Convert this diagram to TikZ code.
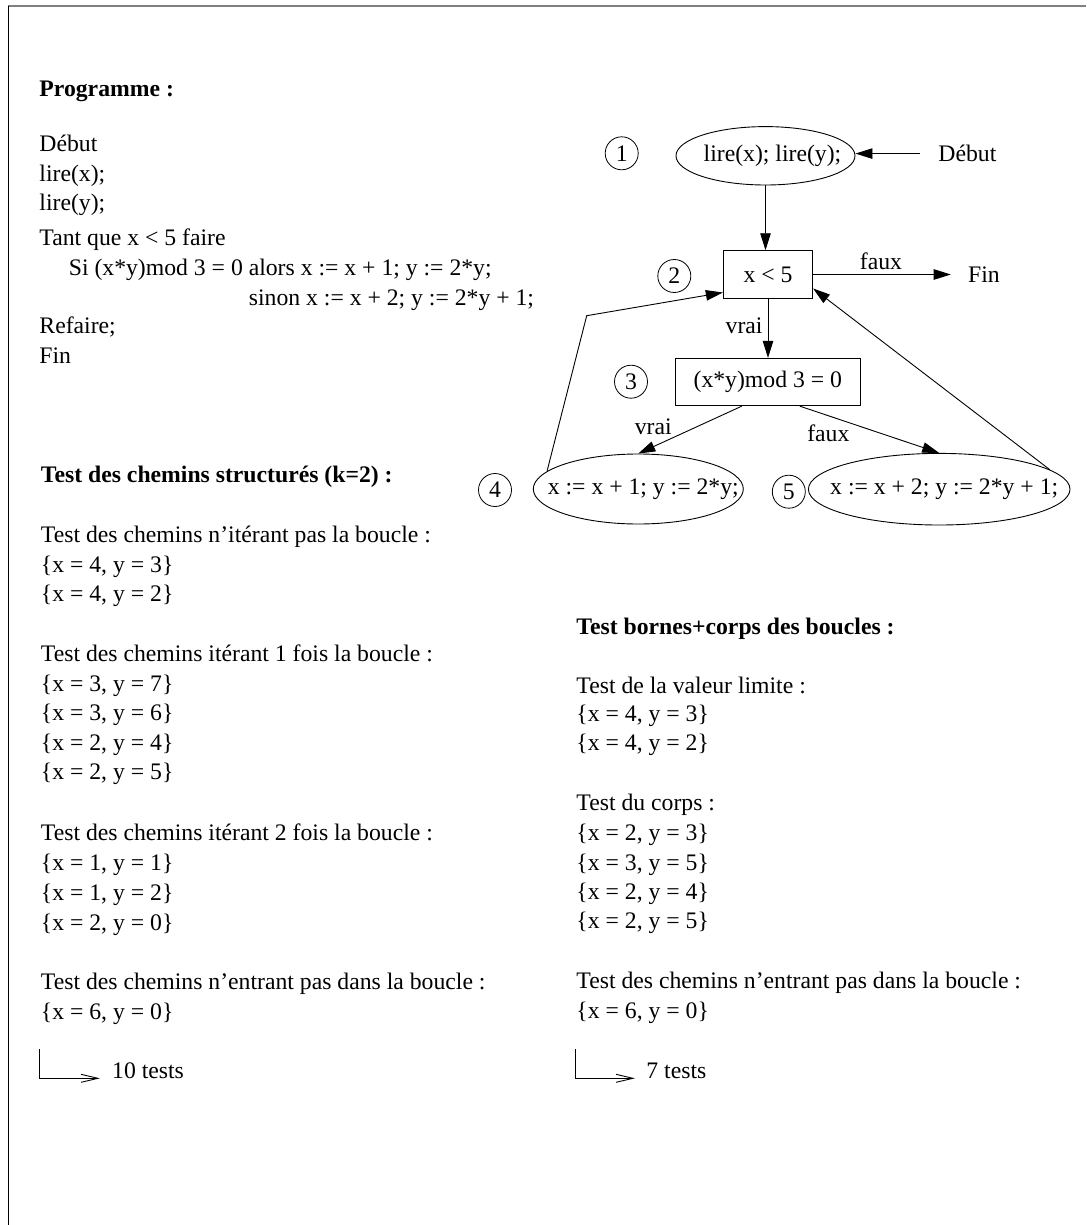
\documentclass[tikz,border=0pt]{standalone}
\usepackage{fontspec}
\setmainfont{Liberation Serif}
\usetikzlibrary{arrows.meta,shapes.geometric,calc}
\newcommand{\myfs}{\fontsize{23.7}{29.3}\selectfont}
\begin{document}
\begin{tikzpicture}[x=1pt,y=-1pt, font=\myfs, line width=0.9pt,
  txt/.style={anchor=base west, inner sep=0pt},
  btxt/.style={anchor=base west, inner sep=0pt, font=\myfs\bfseries},
  lbl/.style={anchor=base, inner sep=0pt},
  num/.style={circle, draw, minimum size=33pt, inner sep=0pt, line width=0.8pt},
  bx/.style={rectangle, draw, inner sep=0pt},
  ell/.style={ellipse, draw, inner sep=0pt},
  arr/.style={-{Triangle[length=17pt,width=10.5pt]}},
  oarr/.style={-{Straight Barb[length=17pt,width=8pt]}}]
\fill[white] (0,0) rectangle (1086,1225);
\useasboundingbox (0,0) rectangle (1086,1225);
% frame
\draw[gray, line width=1.5pt] (8,6) -- (1086,6);
\draw[line width=0.8pt] (8,6) -- (8,1225);

% program
\node[btxt] (p0) at (39,97) {Programme :};
\node[txt] (p1) at (39,152) {Début};
\node[txt] (p2) at (39,181.5) {lire(x);};
\node[txt] (p3) at (39,211) {lire(y);};
\node[txt] (p4) at (39,245) {Tant que x < 5 faire};
\node[txt] (p5) at (68.4,275) {Si (x*y)mod 3 = 0 alors x := x + 1; y := 2*y;};
\node[txt] (p6) at (248.4,305) {sinon x := x + 2; y := 2*y + 1;};
\node[txt] (p7) at (39,333.5) {Refaire;};
\node[txt] (p8) at (39,363.3) {Fin};

% left column
\node[btxt] (s0) at (40.5,482.3) {Test des chemins structurés (k=2) :};
\node[txt] (s1) at (40.5,542.7) {Test des chemins n’itérant pas la boucle :};
\node[txt] (s2) at (40.5,572.7) {\{x = 4, y = 3\}};
\node[txt] (s3) at (40.5,601.7) {\{x = 4, y = 2\}};
\node[txt] (s4) at (40.5,661.7) {Test des chemins itérant 1 fois la boucle :};
\node[txt] (s5) at (40.5,691.7) {\{x = 3, y = 7\}};
\node[txt] (s6) at (40.5,720.7) {\{x = 3, y = 6\}};
\node[txt] (s7) at (40.5,750) {\{x = 2, y = 4\}};
\node[txt] (s8) at (40.5,779.3) {\{x = 2, y = 5\}};
\node[txt] (s9) at (40.5,840) {Test des chemins itérant 2 fois la boucle :};
\node[txt] (s10) at (40.5,870) {\{x = 1, y = 1\}};
\node[txt] (s11) at (40.5,900) {\{x = 1, y = 2\}};
\node[txt] (s12) at (40.5,930) {\{x = 2, y = 0\}};
\node[txt] (s13) at (40.5,989.3) {Test des chemins n’entrant pas dans la boucle :};
\node[txt] (s14) at (40.5,1019.3) {\{x = 6, y = 0\}};
\node[txt] (ten) at (111.7,1078.3) {10 tests};
\coordinate (ltop) at (39,1049.3);
\draw[oarr] (ltop) |- ([xshift=-11.7pt]ten.base west);

% right column
\node[btxt] (r0) at (576,634) {Test bornes+corps des boucles :};
\node[txt] (r1) at (576,693) {Test de la valeur limite :};
\node[txt] (r2) at (576,721.7) {\{x = 4, y = 3\}};
\node[txt] (r3) at (576,750.7) {\{x = 4, y = 2\}};
\node[txt] (r4) at (576,810.7) {Test du corps :};
\node[txt] (r5) at (576,840.7) {\{x = 2, y = 3\}};
\node[txt] (r6) at (576,870) {\{x = 3, y = 5\}};
\node[txt] (r7) at (576,899.3) {\{x = 2, y = 4\}};
\node[txt] (r8) at (576,928.3) {\{x = 2, y = 5\}};
\node[txt] (r9) at (576,988.3) {Test des chemins n’entrant pas dans la boucle :};
\node[txt] (r10) at (576,1018.3) {\{x = 6, y = 0\}};
\node[txt] (sev) at (646,1078.3) {7 tests};
\coordinate (rtop) at (575,1049.3);
\draw[oarr] (rtop) |- ([xshift=-11pt]sev.base west);

% graph shapes (fixed sizes; text may overlap the outline as in the original)
\node[ell, minimum width=179pt, minimum height=58.4pt] (e1) at (765.5,155.8) {};
\node[inner sep=0pt] (e1t) at ([xshift=7pt]e1.center) {lire(x); lire(y);};
\node[bx, minimum width=89.4pt, minimum height=47.6pt] (b2) at (768,274.5) {x < 5};
\node[bx, minimum width=184.3pt, minimum height=47.4pt] (b3) at (767.8,382) {(x*y)mod 3 = 0};
\node[ell, minimum width=210pt, minimum height=70pt] (e4) at (638.3,489) {};
\node[inner sep=0pt] (e4t) at ([xshift=5pt]e4.center) {x := x + 1; y := 2*y;};
\node[ell, minimum width=261.6pt, minimum height=71.6pt] (e5) at (939.2,489.2) {};
\node[inner sep=0pt] (e5t) at ([xshift=5pt]e5.center) {x := x + 2; y := 2*y + 1;};

\node[num] (c1) at (621.7,153.3) {1};
\node[num] (c2) at (674.3,276) {2};
\node[num] (c3) at (631,381.7) {3};
\node[num] (c4) at (495,490) {4};
\node[num] (c5) at (788.8,491.7) {5};

\node[txt] (deb) at (938,161.7) {Début};
\node[txt] (fin) at (967.7,282.3) {Fin};

\node[lbl] (lf1) at (881,269.3) {faux};
\node[anchor=base east, inner sep=0pt] (lv1) at (763,333.3) {vrai};
\node[lbl] (lv2) at (653.3,434) {vrai};
\node[lbl] (lf2) at (828.3,441) {faux};

\coordinate (bend) at (586.7,315.7);

\draw[arr, shorten <=18pt] (deb.west) -- (deb.west -| e1.east);
\draw[arr] (e1.south) -- (e1.south |- b2.north);
\draw[arr, shorten >=17pt] (b2.east) -- (b2.east -| fin.west);
\draw[arr] (b2.south) -- (b2.south |- b3.north);
\draw[arr] ([xshift=-26pt]b3.south) -- (e4.north);
\draw[arr] ([xshift=32pt]b3.south) -- (e5.north);
\draw[arr] (e4.169) -- (bend) -- ([yshift=-18pt]b2.west);
\draw[arr] (e5.10) -- ([yshift=-14pt]b2.east);
\end{tikzpicture}
\end{document}
